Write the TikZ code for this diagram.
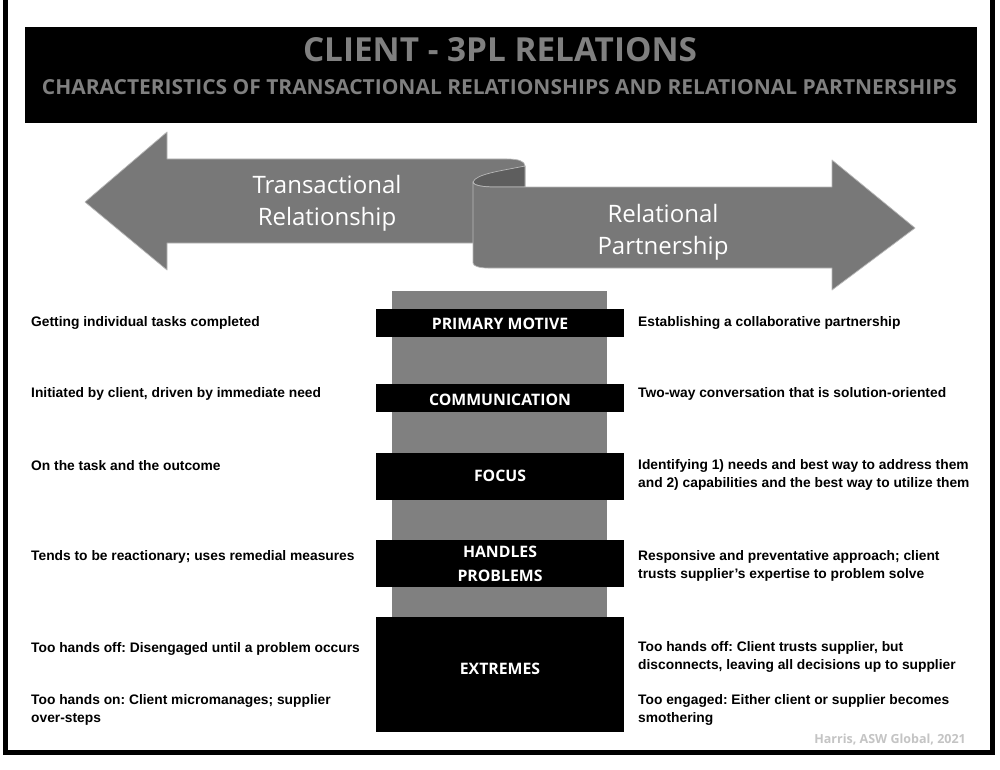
\documentclass[tikz,border=0pt]{standalone}
\usepackage{fontspec}
\setmainfont{Open Sans}
\newfontfamily\bodyfont{Liberation Sans}
\definecolor{arrowgray}{HTML}{787878}
\definecolor{colgray}{HTML}{808080}
\definecolor{curldark}{HTML}{5E5E5E}
\definecolor{titlegray}{HTML}{808080}
\definecolor{edgegray}{HTML}{B8B8B8}
\definecolor{footgray}{HTML}{C4C4C4}
\frenchspacing
\begin{document}
\begin{tikzpicture}[x=1pt,y=-1pt,
  bar/.style={fill=black, draw=none, inner sep=0pt, minimum width=248pt},
  barlabel/.style={text=white, font=\fontsize{15.8}{24}\selectfont\bfseries, align=center, inner sep=0pt},
  desc/.style={anchor=west, inner sep=0pt, align=left, font=\bodyfont\fontsize{13.8}{18}\selectfont\bfseries},
  arrowtext/.style={text=white, font=\fontsize{24}{32}\selectfont, align=center, inner sep=0pt},
  shapefill/.style={fill=arrowgray, draw=edgegray, line width=0.7pt, line join=round}]

\useasboundingbox (0,0) rectangle (1000,770);
\fill[white] (0,0) rectangle (1000,770);
\draw[line width=5pt] (5.5,0) -- (5.5,752.5) -- (992.5,752.5) -- (992.5,0);

% title
\node[fill=black, minimum width=952pt, minimum height=96pt, inner sep=0pt] (titlebox) at (501,75) {};
\node[text=titlegray, inner sep=0pt] (title) at (500,50) {\resizebox{394pt}{24pt}{\bfseries CLIENT - 3PL RELATIONS}};
\node[text=titlegray, inner sep=0pt] (subtitle) at (499.5,87.5) {\resizebox{915pt}{15pt}{\bfseries CHARACTERISTICS OF TRANSACTIONAL RELATIONSHIPS AND RELATIONAL PARTNERSHIPS}};

% arrows
\path[shapefill] (85,202) -- (167,132) -- (167,159) -- (507,159) .. controls (518,159) and (525,161) .. (525,166) -- (525,243) -- (167,243) -- (167,270) -- cycle;
\path[shapefill, fill=curldark] (473,182) .. controls (476,174) and (500,171) .. (525,166) -- (525,187) -- (495,187) .. controls (481,187) and (473,185) .. (473,182) -- cycle;
\path[shapefill] (473,182) .. controls (473,185) and (481,187) .. (495,187) -- (832,187) -- (832,160) -- (915,228) -- (832,290) -- (832,268) -- (488,268) .. controls (479,268) and (473,266) .. (473,263) -- cycle;
\node[arrowtext] (trans) at (327,203.5) {Transactional\\Relationship};
\node[arrowtext] (relat) at (663,232.5) {Relational\\Partnership};

% central column and bars
\node[fill=colgray, minimum width=215pt, minimum height=326pt, inner sep=0pt] (column) at (499.5,454) {};
\node[bar, minimum height=28pt] (b1) at (500,323) {};
\node[bar, minimum height=28pt] (b2) at (500,398) {};
\node[bar, minimum height=47pt] (b3) at (500,476.5) {};
\node[bar, minimum height=47pt] (b4) at (500,563.5) {};
\node[bar, minimum height=115pt] (b5) at (500,674.5) {};
\node[barlabel] (l1) at (500,323.5) {PRIMARY MOTIVE};
\node[barlabel] (l2) at (500,399.5) {COMMUNICATION};
\node[barlabel] (l3) at (500,476) {FOCUS};
\node[barlabel] (l4) at (500,564) {HANDLES\\PROBLEMS};
\node[barlabel] (l5) at (500,668.5) {EXTREMES};

% left descriptions
\node[desc] (t1) at (31,322.5) {Getting individual tasks completed};
\node[desc] (t2) at (31,393.5) {Initiated by client, driven by immediate need};
\node[desc] (t3) at (31,465.5) {On the task and the outcome};
\node[desc] (t4) at (31,556.5) {Tends to be reactionary; uses remedial measures};
\node[desc] (t5) at (31,648.5) {Too hands off: Disengaged until a problem occurs};
\node[desc] (t6) at (31,710) {Too hands on: Client micromanages; supplier\\over-steps};

% right descriptions
\node[desc] (r1) at (638,322.5) {Establishing a collaborative partnership};
\node[desc] (r2) at (638,393.5) {Two-way conversation that is solution-oriented};
\node[desc] (r3) at (638,475) {Identifying 1) needs and best way to address them\\and 2) capabilities and the best way to utilize them};
\node[desc] (r4) at (638,566) {Responsive and preventative approach; client\\trusts supplier’s expertise to problem solve};
\node[desc] (r5) at (638,657) {Too hands off: Client trusts supplier, but\\disconnects, leaving all decisions up to supplier};
\node[desc] (r6) at (638,710) {Too engaged: Either client or supplier becomes\\smothering};

% credit
\node[anchor=east, text=footgray, font=\fontsize{12.5}{15}\selectfont\bfseries, inner sep=0pt] (credit) at (966,740) {Harris, ASW Global, 2021};
\end{tikzpicture}
\end{document}
